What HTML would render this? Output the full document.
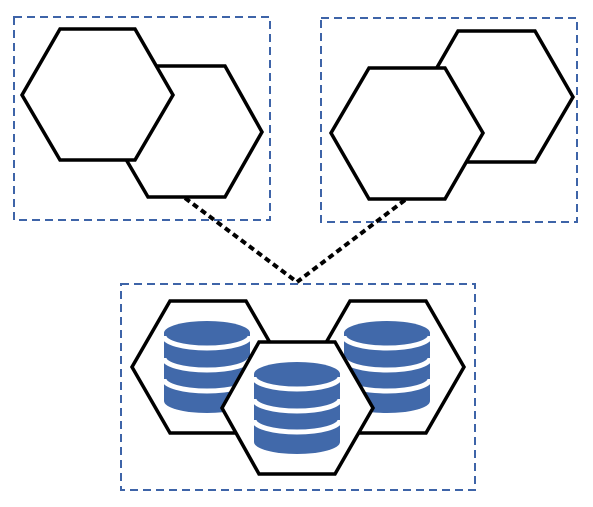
<!DOCTYPE html>
<html><head><meta charset="utf-8"><style>
html,body{margin:0;padding:0;background:#fff;}
svg{display:block;}
</style></head><body>
<svg width="593" height="507" viewBox="0 0 593 507" xmlns="http://www.w3.org/2000/svg">
<defs>
<g id="db">
  <path d="M-43,0 L-43,68 A43,12 0 0 0 43,68 L43,0 Z" fill="#4169aa"/>
  <ellipse cx="0" cy="0" rx="43" ry="12" fill="#4169aa"/>
  <path d="M-43,3 A43,12 0 0 0 43,3" fill="none" stroke="#fff" stroke-width="5"/>
  <path d="M-43,25 A43,12 0 0 0 43,25" fill="none" stroke="#fff" stroke-width="5"/>
  <path d="M-43,46 A43,12 0 0 0 43,46" fill="none" stroke="#fff" stroke-width="5"/>
</g>
</defs>
<g fill="none" stroke="#3e64a8" stroke-width="2" stroke-dasharray="8,5">
  <rect x="14" y="17" width="256" height="203"/>
  <rect x="321" y="18" width="256" height="204"/>
  <rect x="121" y="284" width="354" height="206"/>
</g>
<g stroke="#000" stroke-width="4" stroke-dasharray="6,4" fill="none">
  <line x1="185" y1="198" x2="297" y2="282"/>
  <line x1="405" y1="200" x2="297" y2="282"/>
</g>
<g fill="#fff" stroke="#000" stroke-width="3.5" stroke-linejoin="miter">
  <polygon points="110,132 148,66 225,66 262,132 225,197 148,197"/>
  <polygon points="22,95 60,29 135,29 173,95 135,160 60,160"/>
  <polygon points="420,97 458,31 535,31 573,97 535,162 458,162"/>
  <polygon points="331,133 369,68 445,68 483,133 445,199 369,199"/>
  <polygon points="132,367 170,301 246,301 284,367 246,433 170,433"/>
  <polygon points="312,367 350,301 426,301 464,367 426,433 350,433"/>
</g>
<use href="#db" x="207" y="333"/>
<use href="#db" x="387" y="333"/>
<polygon points="222,408 259,342 335,342 373,408 335,474 259,474" fill="#fff" stroke="#000" stroke-width="3.5"/>
<use href="#db" x="297" y="374"/>
</svg>
</body></html>
